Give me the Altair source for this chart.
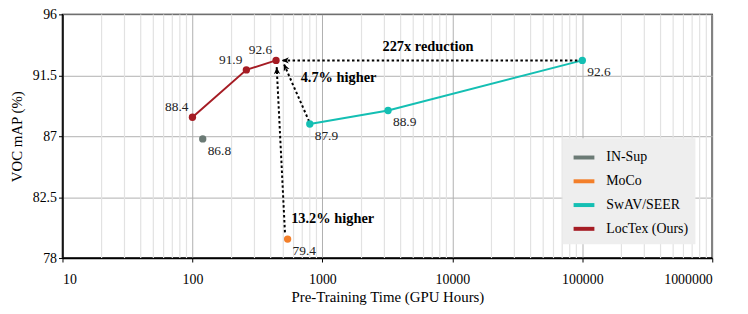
import math
import altair as alt
import pandas as pd

# ---- data ----
methods = ["IN-Sup", "MoCo", "SwAV/SEER", "SwAV/SEER", "SwAV/SEER",
           "LocTex (Ours)", "LocTex (Ours)", "LocTex (Ours)"]
gpu_hours = [120, 540, 800, 3200, 100000, 100, 260, 440]
voc_map = [86.8, 79.4, 87.9, 88.9, 92.6, 88.4, 91.9, 92.6]
label_side = ["below", "below", "below", "below", "below", "above", "above", "above"]

legend_order = ["IN-Sup", "MoCo", "SwAV/SEER", "LocTex (Ours)"]
legend_colors = ["#6b7a75", "#f37f2a", "#14bfb3", "#a51c24"]

arrow_from_hours = [100000, 790, 515]
arrow_from_map = [92.6, 88.1, 79.9]
arrow_to_hours = [487, 505, 445]
arrow_to_map = [92.6, 92.34, 92.1]

ann_text = ["227x reduction", "4.7% higher", "13.2% higher"]
ann_hours = [2900, 680, 575]
ann_map = [93.6, 91.3, 80.9]

x_ticks = [10, 100, 1000, 10000, 100000, 1000000]
y_ticks = [78, 82.5, 87, 91.5, 96]
minor_ticks = [m * d for d in [10, 100, 1000, 10000, 100000] for m in range(2, 10)]

W, H = 656, 246
FONT = "Liberation Serif"

pts = pd.DataFrame({"method": methods, "hours": gpu_hours, "map": voc_map,
                    "side": label_side,
                    "label": [f"{v:.1f}" for v in voc_map]})


def to_px(h, m):
    return (W * (math.log10(h) - 1) / 5, H * (96 - m) / 18)


angles = []
for a, b, c, d in zip(arrow_from_hours, arrow_from_map, arrow_to_hours, arrow_to_map):
    x1, y1 = to_px(a, b)
    x2, y2 = to_px(c, d)
    angles.append(math.degrees(math.atan2(y2 - y1, x2 - x1)) % 360)

arrows = pd.DataFrame({"h1": arrow_from_hours, "m1": arrow_from_map,
                       "h2": arrow_to_hours, "m2": arrow_to_map, "ang": angles})
anns = pd.DataFrame({"text": ann_text, "hours": ann_hours, "map": ann_map})
minor = pd.DataFrame({"hours": minor_ticks})

xscale = alt.Scale(type="log", domain=[10, 1000000], nice=False)
yscale = alt.Scale(domain=[78, 96], nice=False, zero=False)

xaxis = alt.Axis(values=x_ticks, format="d", title="Pre-Training Time (GPU Hours)",
                 grid=True, gridColor="#b0b0b0", tickSize=4, labelPadding=11,
                 titleY=32, titleBaseline="top")
yaxis = alt.Axis(values=y_ticks, format=".1~f", title="VOC mAP (%)",
                 grid=True, gridColor="#b0b0b0", tickSize=4, labelPadding=2,
                 titleX=-38, titleY=H / 2)

X = alt.X("hours:Q", scale=xscale, axis=xaxis)
Y = alt.Y("map:Q", scale=yscale, axis=yaxis)

color = alt.Color("method:N",
                  scale=alt.Scale(domain=legend_order, range=legend_colors),
                  legend=alt.Legend(title=None, orient="none", legendX=505, legendY=125,
                                    symbolType="stroke", symbolSize=441,
                                    symbolStrokeWidth=4, symbolOffset=2, labelOffset=10,
                                    fillColor="#eeeeee", padding=7, rowPadding=3,
                                    labelFont=FONT, labelFontSize=14,
                                    labelColor="black"))
color_nl = alt.Color("method:N",
                     scale=alt.Scale(domain=legend_order, range=legend_colors),
                     legend=None)

minor_grid = alt.Chart(minor).mark_rule(color="#e2e2e2", strokeWidth=1.2).encode(
    x=alt.X("hours:Q", scale=xscale, axis=xaxis))

lines = alt.Chart(pts).mark_line(strokeWidth=2).encode(x=X, y=Y, color=color)

arrow_lines = alt.Chart(arrows).mark_rule(color="black", strokeWidth=2,
                                          strokeDash=[2.5, 2.5]).encode(
    x=alt.X("h1:Q", scale=xscale, axis=xaxis), y=alt.Y("m1:Q", scale=yscale, axis=yaxis),
    x2="h2:Q", y2="m2:Q")

arrow_heads = alt.Chart(arrows).mark_point(
    shape="M0,0 L-1,-0.45 L-0.72,0 L-1,0.45 Z", filled=True, color="black",
    size=200, opacity=1).encode(
    x=alt.X("h2:Q", scale=xscale, axis=xaxis), y=alt.Y("m2:Q", scale=yscale, axis=yaxis),
    angle=alt.Angle("ang:Q", scale=None))

points = alt.Chart(pts).mark_circle(size=55, opacity=1).encode(x=X, y=Y, color=color_nl)

labels_above = alt.Chart(pts).transform_filter(alt.datum.side == "above").mark_text(
    align="right", baseline="middle", dx=-4, dy=-10, font=FONT, fontSize=13.5,
    color="#222222").encode(x=X, y=Y, text="label:N")

labels_below = alt.Chart(pts).transform_filter(alt.datum.side == "below").mark_text(
    align="left", baseline="middle", dx=5, dy=12, font=FONT, fontSize=13.5,
    color="#222222").encode(x=X, y=Y, text="label:N")

ann_marks = alt.Chart(anns).mark_text(
    align="left", baseline="middle", font=FONT, fontSize=14.5, fontWeight="bold",
    color="black").encode(x=alt.X("hours:Q", scale=xscale, axis=xaxis),
                          y=alt.Y("map:Q", scale=yscale, axis=yaxis), text="text:N")

chart = alt.layer(minor_grid, lines, arrow_lines, arrow_heads, points,
                  labels_above, labels_below, ann_marks).properties(
    width=W, height=H,
    autosize=alt.AutoSizeParams(type="none"),
    padding={"left": 55, "top": 5, "right": 28, "bottom": 50},
).configure_view(stroke="black", strokeWidth=1.5).configure_axis(
    domainColor="black", domainWidth=1.5, tickColor="black",
    labelFont=FONT, labelFontSize=14, labelColor="black",
    titleFont=FONT, titleFontSize=15, titleColor="black", titleFontWeight="normal")

chart.save("out.html", embed_options={"renderer": "svg", "actions": False})
